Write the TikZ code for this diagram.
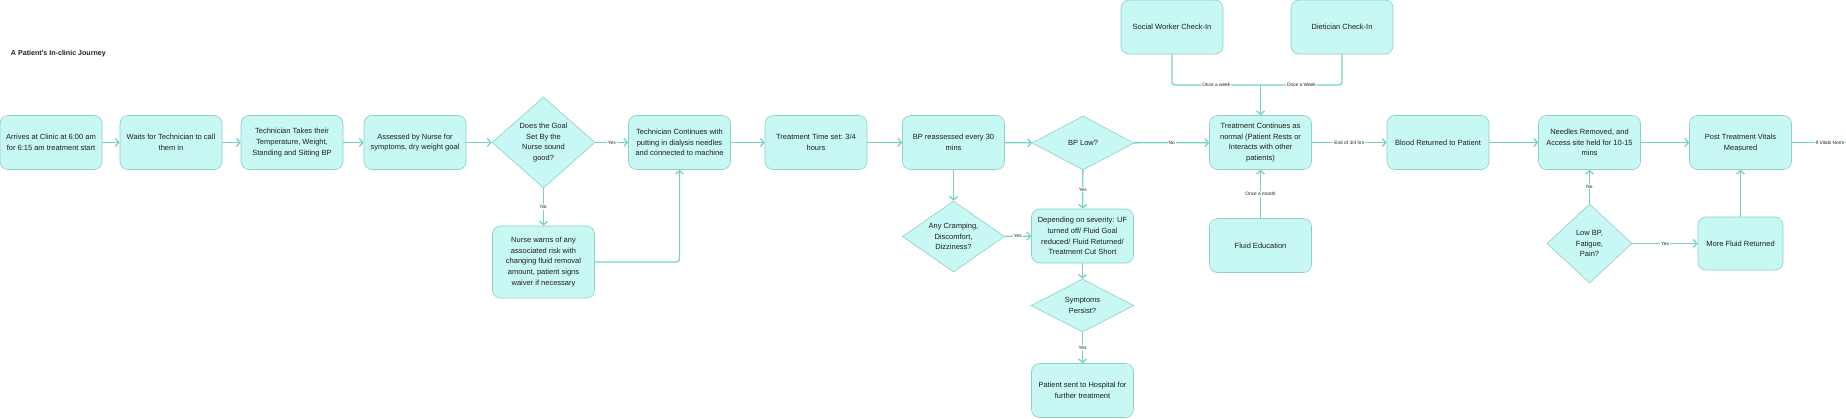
\documentclass[tikz,border=0pt]{standalone}
\usepackage{fontspec}
\setmainfont{Liberation Sans}
\usetikzlibrary{shapes.geometric,arrows.meta}

\definecolor{boxfill}{HTML}{C7F8F3}
\definecolor{boxline}{HTML}{8ECFC7}
\definecolor{flow}{HTML}{77D1C8}
\definecolor{ink}{HTML}{1E1E1E}

\newcommand{\boxfont}{\fontsize{7.5}{10.8}\selectfont}
\newcommand{\lblfont}{\fontsize{4.8}{5.5}\selectfont}

\begin{document}
\begin{tikzpicture}[x=1pt,y=-1pt,
  -{Straight Barb[length=3.5pt,width=8pt]},flow,line width=1.3pt,
  stepbox/.style={draw=boxline,fill=boxfill,line width=0.6pt,rounded corners=8pt,
    minimum width=102pt,minimum height=54pt,inner sep=2pt,align=center,
    text=ink,font=\boxfont},
  ask/.style={draw=boxline,fill=boxfill,line width=0.6pt,shape=diamond,
    inner sep=0pt,align=center,text=ink,font=\boxfont},
  lbl/.style={fill=white,inner sep=1pt,text=ink,font=\lblfont}]

\useasboundingbox (0,0) rectangle (1846,418);

\node[anchor=west,text=ink,font=\fontsize{7.1}{8}\selectfont\bfseries] (TI) at (7,54) {A Patient's In-clinic Journey};

\node[stepbox] (AR) at (51,142.5) {Arrives at Clinic at 6:00 am\\for 6:15 am treatment start};
\node[stepbox] (WT) at (171,142.5) {Waits for Technician to call\\them in};
\node[stepbox] (TT) at (292,142.5) {Technician Takes their\\Temperature, Weight,\\Standing and Sitting BP};
\node[stepbox] (AN) at (415,142.5) {Assessed by Nurse for\\symptoms, dry weight goal};
\node[ask,aspect=1.2,minimum width=103pt,minimum height=91pt] (GQ) at (543.5,142.5) {Does the Goal\\Set By the\\Nurse sound\\good?};
\node[stepbox,minimum height=72pt] (NW) at (543.5,262) {Nurse warns of any\\associated risk with\\changing fluid removal\\amount, patient signs\\waiver if necessary};
\node[stepbox] (TC) at (679.5,142.5) {Technician Continues with\\putting in dialysis needles\\and connected to machine};
\node[stepbox] (TS) at (816,142.5) {Treatment Time set: 3/4\\hours};
\node[stepbox] (BR) at (953.5,142.5) {BP reassessed every 30\\mins};
\node[ask,aspect=1.5,minimum width=102pt,minimum height=71pt] (CQ) at (953.5,236.5) {Any Cramping,\\Discomfort,\\Dizziness?};
\node[ask,aspect=2,minimum width=102pt,minimum height=54pt] (BQ) at (1083,143) {BP Low?};
\node[stepbox] (DS) at (1082.5,236) {Depending on severity: UF\\turned off/ Fluid Goal\\reduced/ Fluid Returned/\\Treatment Cut Short};
\node[ask,aspect=2,minimum width=103pt,minimum height=53pt] (SQ) at (1082.5,305.5) {Symptoms\\Persist?};
\node[stepbox] (HS) at (1082.5,390.5) {Patient sent to Hospital for\\further treatment};
\node[stepbox] (SW) at (1172,27) {Social Worker Check-In};
\node[stepbox] (DT) at (1342,27) {Dietician Check-In};
\node[stepbox] (CT) at (1260.5,142.5) {Treatment Continues as\\normal (Patient Rests or\\Interacts with other\\patients)};
\node[stepbox] (FE) at (1260.5,245.5) {Fluid Education};
\node[stepbox] (BL) at (1438,142.5) {Blood Returned to Patient};
\node[stepbox] (ND) at (1589.5,142.5) {Needles Removed, and\\Access site held for 10-15\\mins};
\node[ask,aspect=1,minimum width=85pt,minimum height=79pt] (LQ) at (1589.5,243.5) {Low BP,\\Fatigue,\\Pain?};
\node[stepbox] (PT) at (1740.5,142.5) {Post Treatment Vitals\\Measured};
\node[stepbox,minimum width=85pt,minimum height=53pt] (MF) at (1740.5,243.5) {More Fluid Returned};

\coordinate (JN) at (1260.5,85);
\coordinate (EX) at (1846,142.5);

\draw (AR) to (WT);
\draw (WT) to (TT);
\draw (TT) to (AN);
\draw (AN) to (GQ);
\draw (GQ) to node[lbl] {Yes} (TC);
\draw (GQ) to node[lbl] {No} (NW);
\draw[rounded corners=3pt] (NW.east) -- (NW.east -| TC) -- (TC.south);
\draw (TC) to (TS);
\draw (TS) to (BR);
\draw (BR) to (BQ);
\draw (BR) to (CQ);
\draw (CQ) to node[lbl] {Yes} (DS);
\draw (BQ) to node[lbl] {Yes} (DS);
\draw (BQ) to node[lbl] {No} (CT);
\draw (DS) to (SQ);
\draw (SQ) to node[lbl] {Yes} (HS);
\draw[-,rounded corners=3pt] (SW.south) -- (SW.south |- JN) -- node[lbl] {Once a week} (JN);
\draw[-,rounded corners=3pt] (DT.south) -- (DT.south |- JN) -- node[lbl] {Once a Week} (JN);
\draw (JN) to (CT);
\draw (FE) to node[lbl] {Once a month} (CT);
\draw (CT) to node[lbl] {End of 3/4 hrs} (BL);
\draw (BL) to (ND);
\draw (ND) to (PT);
\draw (LQ) to node[lbl] {No} (ND);
\draw (LQ) to node[lbl] {Yes} (MF);
\draw (MF) to (PT);
\draw[-] (PT) to (EX) node[lbl,anchor=east] {If Vitals Norm};

\end{tikzpicture}
\end{document}
